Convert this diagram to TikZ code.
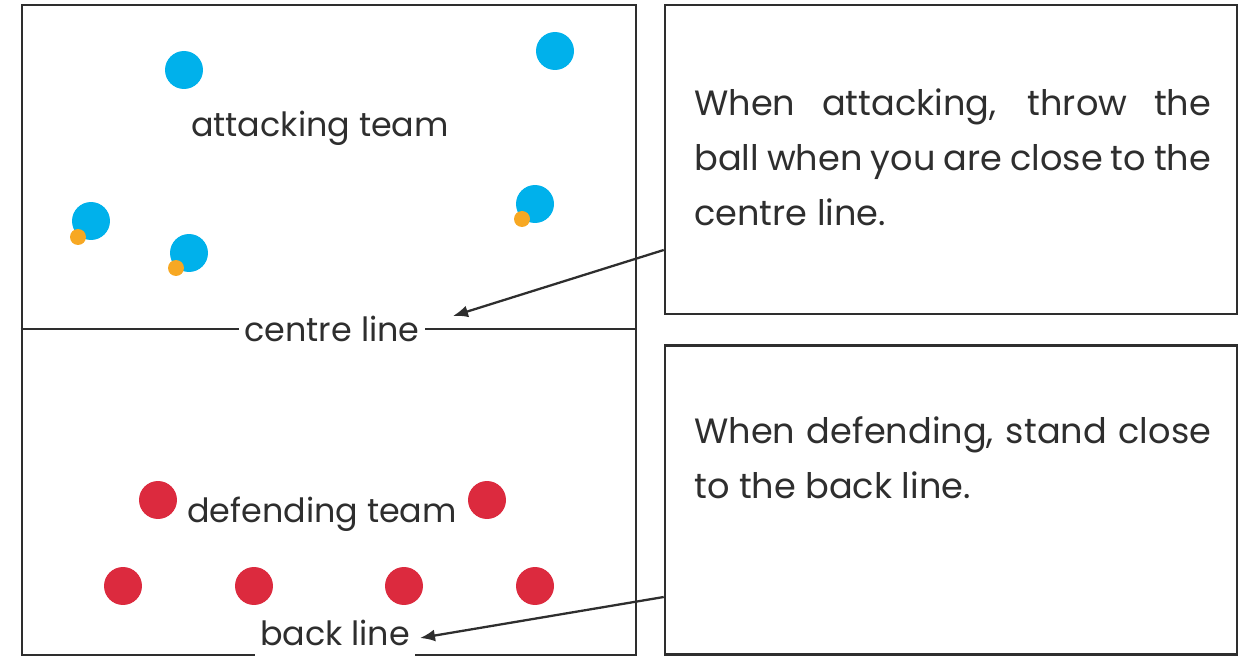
\documentclass[tikz,border=0pt]{standalone}
\usepackage{fontspec}
\setmainfont{Poppins}
\usetikzlibrary{arrows.meta}

\definecolor{attackblue}{HTML}{00B1EB}
\definecolor{ballorange}{HTML}{F7A823}
\definecolor{defendred}{HTML}{DC2A3E}
\definecolor{courtgrey}{HTML}{2E2E2E}

\tikzset{
	court/.style={draw=courtgrey, line width=1.5pt},
	attacker/.style={circle, fill=attackblue, minimum size=0.76cm, inner sep=0pt},
	defender/.style={circle, fill=defendred, minimum size=0.76cm, inner sep=0pt},
	ball/.style={circle, fill=ballorange, minimum size=0.32cm, inner sep=0pt},
	courtlabel/.style={font=\fontsize{19}{21}\selectfont, text=courtgrey, fill=white, inner xsep=3pt, inner ysep=1pt},
	teamlabel/.style={font=\fontsize{19}{21}\selectfont, text=courtgrey},
	tipbox/.style={court, minimum width=11.44cm, minimum height=6.18cm, inner sep=0pt},
	tiptext/.style={font=\fontsize{20}{31.3}\selectfont, text=courtgrey, text width=10.34cm, align=justify, inner sep=0pt},
	pointer/.style={color=courtgrey, line width=1.3pt, -{Latex[length=0.3cm, width=0.24cm]}}
}

\begin{document}
\begin{tikzpicture}[x=0.02cm, y=-0.02cm]
\useasboundingbox (0,0) rectangle (1251,658);

\node[court, minimum width=12.28cm, minimum height=13cm, inner sep=0pt] (pitch) at (329,330) {};
\draw[court] (pitch.west |- 0,329) -- (pitch.east |- 0,329);

\node[courtlabel] (centre) at (332,329) {centre line};
\node[courtlabel, anchor=base, text depth=0.22cm] (back) at (335,645) {back line};

\node[teamlabel] (attackers) at (320,128) {attacking team};
\node[teamlabel] (defenders) at (322,514) {defending team};

\node[attacker] (a1) at (184,70) {};
\node[attacker] (a2) at (555,51) {};
\node[attacker] (a3) at (91,221) {};
\node[attacker] (a4) at (189,253) {};
\node[attacker] (a5) at (535,204) {};
\node[ball] (b3) at (78,237) {};
\node[ball] (b4) at (176,268) {};
\node[ball] (b5) at (522,219) {};

\node[defender] (d1) at (158,500) {};
\node[defender] (d2) at (487,500) {};
\node[defender] (d3) at (123,586) {};
\node[defender] (d4) at (254,586) {};
\node[defender] (d5) at (404,586) {};
\node[defender] (d6) at (535,586) {};

\node[tipbox] (attackbox) at (951,159.5) {};
\node[tiptext, anchor=north west] (attacktip) at (694,88)
	{When attacking, throw the ball when you are close to the centre line.};

\node[tipbox] (defendbox) at (951,500) {};
\node[tiptext, anchor=north west] (defendtip) at (694,416)
	{When defending, stand close to the back line.};

\coordinate (attackfrom) at (attackbox.west |- 0,250);
\coordinate (defendfrom) at (defendbox.west |- 0,597);
\path[pointer]
(attackfrom) edge (453,316)
(defendfrom) edge (420,638)
;
\end{tikzpicture}
\end{document}
